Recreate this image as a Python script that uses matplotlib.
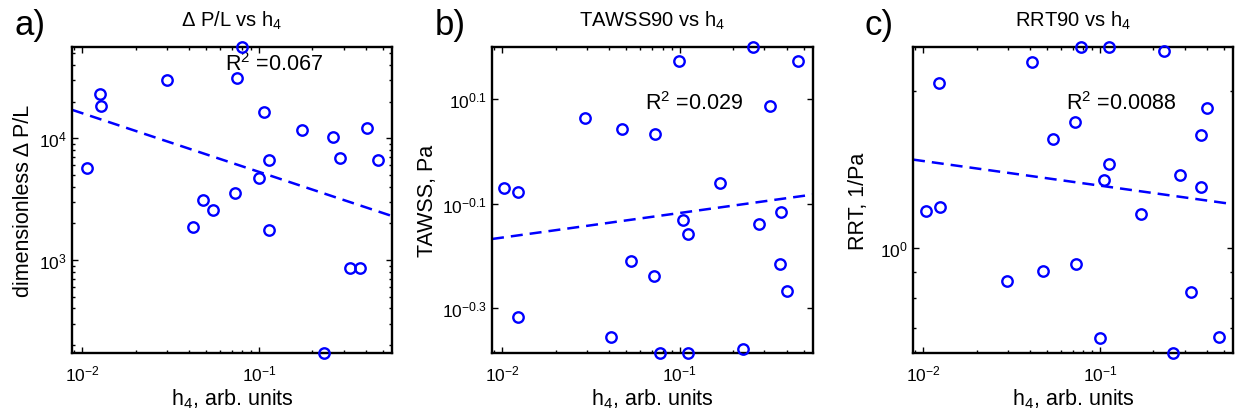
import matplotlib
matplotlib.use('Agg')
import matplotlib.pyplot as plt
import numpy as np
from matplotlib.ticker import (LogLocator, NullFormatter, FixedLocator,
                               FixedFormatter, NullLocator, LogFormatterMathtext)

plt.rcParams['font.family'] = ['Liberation Sans', 'DejaVu Sans']
plt.rcParams['mathtext.fontset'] = 'custom'
plt.rcParams['mathtext.rm'] = 'Liberation Sans'
plt.rcParams['mathtext.it'] = 'Liberation Sans:italic'
plt.rcParams['mathtext.bf'] = 'Liberation Sans:bold'
plt.rcParams['mathtext.sf'] = 'Liberation Sans'

# ---------------- data ----------------
h4_a = [0.01067, 0.01259, 0.0127, 0.0300, 0.0420, 0.0482, 0.0549, 0.0731,
        0.0748, 0.0795, 0.1000, 0.1067, 0.1129, 0.1140, 0.1738, 0.2310,
        0.2600, 0.2870, 0.3260, 0.3730, 0.4080, 0.4700]
dpl_a = [5665, 23100, 18330, 30340, 1867, 3133, 2576, 3531,
         31540, 56200, 4720, 16370, 6590, 1775, 11630, 172,
         10190, 6930, 855, 865, 12080, 6590]

h4_b = [0.0102, 0.01228, 0.01223, 0.0292, 0.0408, 0.0472, 0.0533, 0.0714,
        0.0727, 0.0776, 0.0986, 0.1044, 0.111, 0.111, 0.169, 0.2277,
        0.257, 0.2805, 0.323, 0.367, 0.371, 0.403, 0.461]
tawss_b = [0.850, 0.836, 0.481, 1.159, 0.4406, 1.104, 0.618, 0.577,
           1.079, 0.4112, 1.493, 0.740, 0.4112, 0.696, 0.870, 0.4188,
           1.586, 0.725, 1.222, 0.609, 0.766, 0.540, 1.493]

h4_c = [0.01036, 0.01245, 0.01233, 0.0296, 0.0412, 0.0478, 0.0540, 0.0717,
        0.0730, 0.0783, 0.0991, 0.105, 0.112, 0.1124, 0.171, 0.2294,
        0.2594, 0.283, 0.325, 0.3706, 0.372, 0.404, 0.4677]
rrt_c = [1.178, 1.199, 2.080, 0.863, 2.279, 0.9045, 1.620, 1.745,
         0.930, 2.435, 0.670, 1.353, 2.435, 1.448, 1.161, 2.393,
         0.628, 1.384, 0.823, 1.647, 1.310, 1.858, 0.673]

# log-log regression lines: (slope, intercept) in log10 space
fit_a = (-0.4826, 3.2405)
fit_b = (0.0471, -0.0706)
fit_c = (-0.0474, 0.0724)

r2_labels = ['R$^2$ =0.067', 'R$^2$ =0.029', 'R$^2$ =0.0088']
titles = ['\u0394 P/L vs h$_4$', 'TAWSS90 vs h$_4$', 'RRT90 vs h$_4$']
ylabels = ['dimensionless \u0394 P/L', 'TAWSS, Pa', 'RRT, 1/Pa']
panel_letters = ['a)', 'b)', 'c)']
xlabel = 'h$_4$, arb. units'
xlim = (0.00875, 0.563)
b_ticks_exp = [-0.3, -0.1, 0.1]

# ---------------- figure ----------------
W, H = 1238, 414
fig = plt.figure(figsize=(W / 100, H / 100), dpi=100)
fig.patch.set_facecolor('white')

rects = [(72, 320), (492, 321), (913, 320)]
top_px, bot_px = 48, 354
blue = (0, 0, 1)

datasets = [(h4_a, dpl_a, fit_a), (h4_b, tawss_b, fit_b), (h4_c, rrt_c, fit_c)]
ylabel_x = [-0.12, -0.167, -0.139]
letter_x = [15, 435, 865]

for i, ((x, y, fit), (lp, wp)) in enumerate(zip(datasets, rects)):
    ax = fig.add_axes([lp / W, (H - bot_px) / H, wp / W, (bot_px - top_px) / H])
    ax.set_xscale('log')
    ax.set_yscale('log')
    ax.set_xlim(*xlim)
    ax.set_ylim(min(y), max(y))

    xx = np.logspace(np.log10(xlim[0]), np.log10(xlim[1]), 50)
    slope, icpt = fit
    ln, = ax.plot(xx, 10 ** (icpt + slope * np.log10(xx)), color=blue, lw=1.8)
    ln.set_dashes([4.8, 2.8])
    ax.plot(x, y, 'o', mfc='none', mec=blue, ms=7.5, mew=1.7, clip_on=False,
            zorder=5)

    ax.xaxis.set_major_locator(LogLocator(base=10))
    ax.xaxis.set_minor_locator(LogLocator(base=10, subs=np.arange(2, 10)))
    ax.xaxis.set_minor_formatter(NullFormatter())
    if i == 1:
        ax.yaxis.set_major_locator(FixedLocator([10 ** e for e in b_ticks_exp]))
        ax.yaxis.set_major_formatter(FixedFormatter(
            ['$10^{%g}$' % e for e in b_ticks_exp]))
        ax.yaxis.set_minor_locator(NullLocator())
    else:
        ax.yaxis.set_major_locator(LogLocator(base=10))
        ax.yaxis.set_major_formatter(LogFormatterMathtext())
        ax.yaxis.set_minor_locator(LogLocator(base=10, subs=np.arange(2, 10)))
    ax.yaxis.set_minor_formatter(NullFormatter())

    ax.tick_params(which='both', direction='in', top=True, right=True,
                   width=1.0, labelsize=12.5, colors='black')
    ax.tick_params(axis='x', which='both', pad=7.5)
    ax.tick_params(axis='y', which='both', pad=3.5)
    ax.tick_params(which='major', length=4)
    ax.tick_params(which='minor', length=2.2)
    for s in ax.spines.values():
        s.set_linewidth(1.7)

    ax.set_title(titles[i], fontsize=14.5, pad=15)
    ax.set_xlabel(xlabel, fontsize=15.5)
    ax.xaxis.set_label_coords(0.5, -0.11)
    ax.set_ylabel(ylabels[i], fontsize=15.5)
    ax.yaxis.set_label_coords(ylabel_x[i], 0.5)

    ry = 0.926 if i == 0 else 0.797
    ax.text(0.478, ry, r2_labels[i], transform=ax.transAxes, fontsize=15.5,
            va='baseline', ha='left')

    fig.text(letter_x[i] / W, 1 - 35 / H, panel_letters[i], fontsize=25,
             va='baseline', ha='left')

fig.savefig('out.png', dpi=100, facecolor='white')
